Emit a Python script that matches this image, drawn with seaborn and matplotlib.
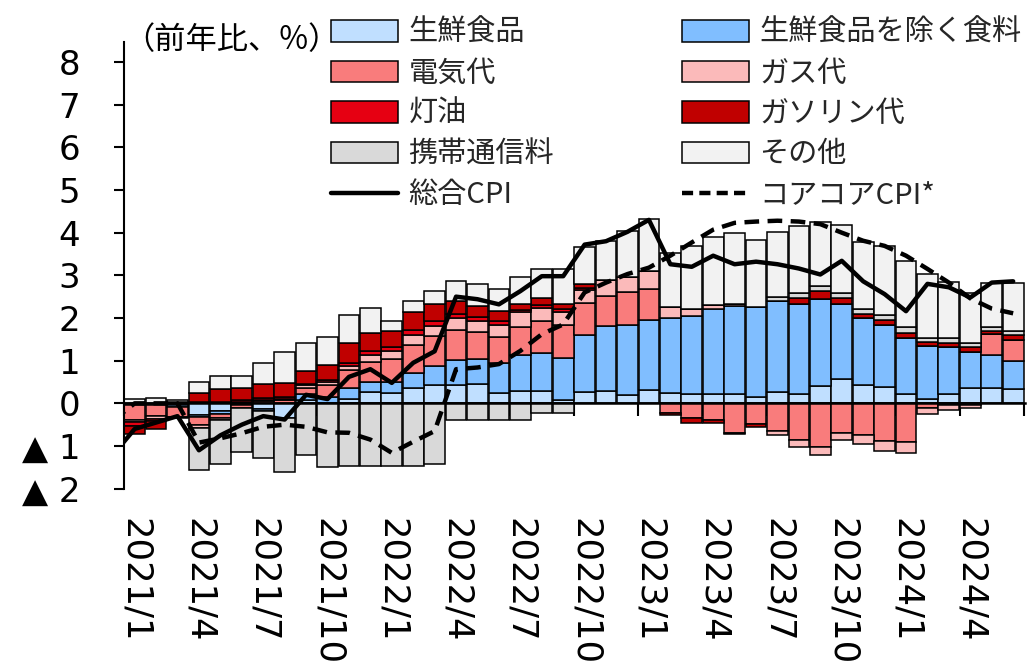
import numpy as np
import pandas as pd
import matplotlib
matplotlib.use("Agg")
import matplotlib.pyplot as plt
from matplotlib.lines import Line2D
import seaborn as sns

# Monthly categories, 2021/1 .. 2024/6
months = [f"{y}/{m}" for y in (2021, 2022, 2023, 2024) for m in range(1, 13)][:42]
tick_labels = ["2021/1", "2021/4", "2021/7", "2021/10", "2022/1", "2022/4", "2022/7",
               "2022/10", "2023/1", "2023/4", "2023/7", "2023/10", "2024/1", "2024/4"]
y_tick_labels = ["▲ 2", "▲ 1", "0", "1", "2", "3", "4", "5", "6", "7", "8"]

# Contributions to y/y change (percentage points)
fresh_food = [0.00, 0.00, -0.03, -0.28, -0.19, -0.03, -0.14, -0.35, 0.08, 0.00,
              0.10, 0.27, 0.25, 0.37, 0.43, 0.43, 0.45, 0.25, 0.29, 0.29,
              0.07, 0.27, 0.28, 0.19, 0.31, 0.25, 0.23, 0.21, 0.23, 0.15,
              0.27, 0.21, 0.41, 0.58, 0.42, 0.39, 0.21, 0.11, 0.23, 0.37,
              0.37, 0.33]
food_ex_fresh = [-0.03, -0.03, -0.05, -0.04, -0.06, 0.00, -0.05, 0.00, 0.14, 0.14,
                 0.25, 0.23, 0.26, 0.35, 0.45, 0.58, 0.58, 0.70, 0.84, 0.90,
                 1.00, 1.33, 1.53, 1.64, 1.65, 1.74, 1.82, 2.01, 2.06, 2.10,
                 2.13, 2.11, 2.03, 1.74, 1.57, 1.44, 1.33, 1.24, 1.10, 0.83,
                 0.76, 0.66]
electricity = [-0.35, -0.27, -0.25, -0.18, -0.10, -0.08, 0.06, 0.07, 0.15, 0.30,
               0.44, 0.47, 0.53, 0.65, 0.70, 0.71, 0.65, 0.61, 0.67, 0.75,
               0.76, 0.74, 0.70, 0.77, 0.73, -0.22, -0.34, -0.38, -0.69, -0.49,
               -0.65, -0.85, -1.02, -0.69, -0.75, -0.88, -0.91, -0.10, -0.05, -0.05,
               0.49, 0.50]
city_gas = [-0.06, -0.06, -0.02, -0.07, -0.03, 0.03, 0.02, 0.03, 0.05, 0.05,
            0.08, 0.16, 0.18, 0.23, 0.23, 0.27, 0.26, 0.27, 0.33, 0.29,
            0.31, 0.31, 0.38, 0.37, 0.42, 0.26, 0.16, 0.08, 0.03, 0.00,
            -0.10, -0.17, -0.20, -0.17, -0.21, -0.24, -0.26, -0.14, -0.11, -0.05,
            0.00, 0.00]
kerosene = [-0.08, -0.05, 0.00, 0.03, 0.04, 0.04, 0.05, 0.05, 0.04, 0.05,
            0.07, 0.10, 0.09, 0.12, 0.13, 0.10, 0.09, 0.10, 0.06, 0.07,
            0.08, 0.05, 0.00, 0.00, 0.00, 0.00, 0.00, 0.00, 0.00, 0.00,
            0.00, 0.00, 0.00, 0.00, 0.00, 0.00, 0.00, 0.00, 0.00, 0.00,
            0.00, 0.00]
gasoline = [-0.21, -0.20, 0.03, 0.22, 0.30, 0.28, 0.32, 0.32, 0.29, 0.36,
            0.48, 0.41, 0.39, 0.41, 0.38, 0.31, 0.25, 0.23, 0.14, 0.16,
            0.11, 0.10, 0.00, 0.00, 0.00, -0.05, -0.12, -0.07, -0.04, -0.06,
            0.00, 0.16, 0.20, 0.14, 0.10, 0.13, 0.12, 0.09, 0.09, 0.13,
            0.08, 0.11]
mobile = [0.00, 0.00, 0.00, -1.00, -1.04, -1.02, -1.08, -1.26, -1.22, -1.50,
          -1.47, -1.47, -1.47, -1.47, -1.42, -0.38, -0.38, -0.38, -0.38, -0.22,
          -0.22, 0.00, 0.00, 0.00, 0.00, 0.00, 0.00, 0.00, 0.00, 0.00,
          0.10, 0.10, 0.11, 0.12, 0.12, 0.11, 0.12, 0.10, 0.12, 0.09,
          0.10, 0.10]
others = [0.10, 0.12, 0.04, 0.25, 0.30, 0.28, 0.50, 0.74, 0.67, 0.66,
          0.66, 0.59, 0.22, 0.27, 0.31, 0.46, 0.52, 0.53, 0.62, 0.70,
          0.82, 0.86, 0.92, 1.06, 1.20, 1.27, 1.47, 1.59, 1.67, 1.58,
          1.52, 1.58, 1.49, 1.60, 1.58, 1.61, 1.56, 1.50, 1.31, 1.16,
          1.03, 1.12]

# Headline and core-core CPI, y/y %, from 2020/12 (first point sits left of the axis)
headline_cpi = [-1.2, -0.6, -0.45, -0.3, -1.1, -0.75, -0.5, -0.3, -0.38, 0.2, 0.1,
                0.62, 0.8, 0.48, 0.95, 1.22, 2.5, 2.44, 2.32, 2.63, 2.98, 2.98,
                3.72, 3.8, 4.02, 4.3, 3.26, 3.2, 3.46, 3.26, 3.32, 3.26, 3.16,
                3.02, 3.34, 2.86, 2.56, 2.16, 2.8, 2.72, 2.48, 2.83, 2.86]
core_core_cpi = [-0.4, 0.0, 0.0, 0.0, -0.92, -0.82, -0.7, -0.55, -0.5, -0.55, -0.68,
                 -0.69, -0.85, -1.16, -0.9, -0.65, 0.8, 0.84, 0.92, 1.23, 1.62, 1.85,
                 2.6, 2.83, 3.03, 3.18, 3.46, 3.77, 4.07, 4.23, 4.26, 4.28, 4.26,
                 4.2, 4.0, 3.81, 3.69, 3.46, 3.15, 2.83, 2.46, 2.22, 2.11]

component_names = ["生鮮食品", "生鮮食品を除く食料", "電気代", "ガス代", "灯油",
                   "ガソリン代", "携帯通信料", "その他"]
component_values = [fresh_food, food_ex_fresh, electricity, city_gas, kerosene,
                    gasoline, mobile, others]
component_colors = ["#C0DFFF", "#80BEFF", "#F97C7C", "#FBBABA", "#E60012",
                    "#C00000", "#D9D9D9", "#F2F2F2"]

sns.set_theme(style="white")
plt.rcParams["font.family"] = ["DejaVu Sans", "Noto Sans CJK JP"]
cjk = ["Noto Sans CJK JP", "DejaVu Sans"]

fig = plt.figure(figsize=(10.27, 6.72), dpi=100)
ax = fig.add_axes([0.1207, 0.2728, 0.8773, 0.6648])

n = len(months)
x = np.arange(n)
pos_base = np.zeros(n)
neg_base = np.zeros(n)
bar_handles = {}
for name, vals, color in zip(component_names, component_values, component_colors):
    v = np.asarray(vals, dtype=float)
    bottom = np.where(v >= 0, pos_base, neg_base)
    bars = ax.bar(x, v, width=0.97, bottom=bottom, color=color,
                  edgecolor="black", linewidth=1.1, zorder=2)
    bar_handles[name] = bars
    pos_base += np.clip(v, 0, None)
    neg_base += np.clip(v, None, 0)

line_df = pd.DataFrame({"x": np.arange(-1, n),
                        "総合CPI": headline_cpi,
                        "コアコアCPI*": core_core_cpi})
sns.lineplot(data=line_df, x="x", y="コアコアCPI*", ax=ax, color="black",
             linewidth=3.2, zorder=5)
ax.lines[-1].set_dashes((3.3, 1.9))
sns.lineplot(data=line_df, x="x", y="総合CPI", ax=ax, color="black",
             linewidth=3.2, zorder=6)

ax.set_xlim(-0.5, 41.55)
ax.set_ylim(-2, 8.47)
ax.set_xlabel("")
ax.set_ylabel("")

# Axes: left spine with outward ticks, horizontal axis drawn at zero
for side in ("top", "right"):
    ax.spines[side].set_visible(False)
ax.spines["left"].set_color("black")
ax.spines["left"].set_linewidth(1.5)
ax.spines["bottom"].set_position(("data", 0))
ax.spines["bottom"].set_color("black")
ax.spines["bottom"].set_linewidth(1.8)
ax.spines["bottom"].set_zorder(4)

ax.set_yticks(np.arange(-2, 9), labels=y_tick_labels)
ax.tick_params(axis="y", direction="out", length=7.5, width=1.5, color="black",
               pad=24, labelsize=24.5, labelcolor="black", left=True)
ax.set_xticks(np.arange(-0.5, n, 3))
ax.tick_params(axis="x", direction="out", length=9.5, width=1.5, color="black",
               labelbottom=False, bottom=True)

# Month labels along the bottom edge of the plot area
sec = ax.secondary_xaxis("bottom")
sec.set_xticks(np.arange(0, n, 3), labels=tick_labels)
sec.tick_params(axis="x", length=0, pad=21, labelsize=25.5, labelrotation=-90,
                labelcolor="black")
sec.spines["bottom"].set_visible(False)

fig.text(123 / 1027, 1 - 40 / 672, "（前年比、%）", fontsize=22.5, family=cjk,
         ha="left", va="center", color="black")

# Legend in two columns
core_proxy = Line2D([], [], color="black", linewidth=3.2, dashes=(2.5, 1.4))
head_line = ax.lines[-1]
order_handles = [bar_handles["生鮮食品"], bar_handles["電気代"], bar_handles["灯油"],
                 bar_handles["携帯通信料"], head_line,
                 bar_handles["生鮮食品を除く食料"], bar_handles["ガス代"],
                 bar_handles["ガソリン代"], bar_handles["その他"], core_proxy]
order_labels = ["生鮮食品", "電気代", "灯油", "携帯通信料", "総合CPI",
                "生鮮食品を除く食料", "ガス代", "ガソリン代", "その他", "コアコアCPI*"]
fig.legend(order_handles, order_labels, ncol=2, loc="upper left",
           bbox_to_anchor=(331 / 1027, 1 - 18 / 672), frameon=False,
           prop={"family": cjk, "size": 21}, handlelength=2.3, handleheight=0.75,
           handletextpad=0.35, labelspacing=0.36, columnspacing=4.4,
           borderpad=0, borderaxespad=0)

fig.savefig("out.png", dpi=100, facecolor="white")
